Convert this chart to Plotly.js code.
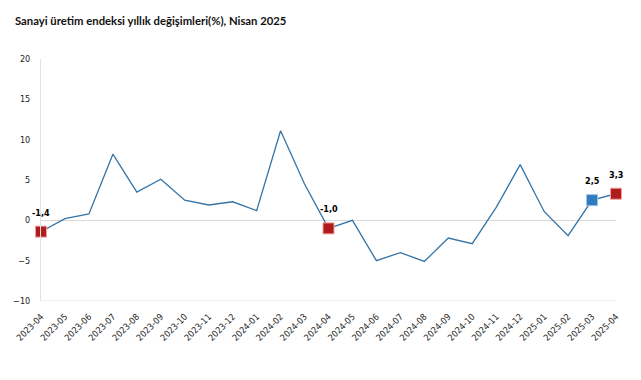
<!DOCTYPE html>
<html>
<head>
<meta charset="utf-8">
<script src="https://cdn.plot.ly/plotly-3.0.1.min.js"></script>
<style>html,body{margin:0;padding:0;background:#fff;}#chart{width:641px;height:380px;}</style>
</head>
<body>
<div id="chart"></div>
<script>
const months = ["2023-04","2023-05","2023-06","2023-07","2023-08","2023-09","2023-10","2023-11","2023-12",
  "2024-01","2024-02","2024-03","2024-04","2024-05","2024-06","2024-07","2024-08","2024-09","2024-10",
  "2024-11","2024-12","2025-01","2025-02","2025-03","2025-04"];
const values = [-1.4,0.2,0.8,8.2,3.5,5.1,2.5,1.9,2.3,1.2,11.1,4.5,-1.0,0.0,-5.0,-4.0,-5.1,-2.2,-2.9,1.6,6.9,1.1,-1.9,2.5,3.3];
const redMonths = ["2023-04","2024-04","2025-04"];
const blueMonths = ["2025-03"];
const titleText = "Sanayi üretim endeksi yıllık değişimleri(%), Nisan 2025";

const pick = (list) => list.map(m => values[months.indexOf(m)]);
const fmt = v => v.toFixed(1).replace('.', ',');
const labelMonths = redMonths.concat(blueMonths);

const traces = [
  {x: months, y: values, type: 'scatter', mode: 'lines', cliponaxis: false,
   line: {color: '#3574a6', width: 1.3}, hoverinfo: 'skip', showlegend: false},
  {x: redMonths, y: pick(redMonths), type: 'scatter', mode: 'markers', cliponaxis: false,
   marker: {symbol: 'square', size: 11, color: '#b01c1c', line: {color: '#f0a0a0', width: 1}}, showlegend: false},
  {x: blueMonths, y: pick(blueMonths), type: 'scatter', mode: 'markers', cliponaxis: false,
   marker: {symbol: 'square', size: 11, color: '#2e7bbf', line: {color: '#9cc3e6', width: 1}}, showlegend: false}
];

const annotations = labelMonths.map(m => ({
  x: m, y: values[months.indexOf(m)], xref: 'x', yref: 'y',
  text: '<b>' + fmt(values[months.indexOf(m)]) + '</b>', showarrow: false,
  yshift: 19, font: {family: 'DejaVu Sans Condensed, sans-serif', size: 9, color: '#000'}
}));

const tf = {family: 'DejaVu Sans Condensed, sans-serif', size: 9, color: '#222'};
const layout = {
  width: 641, height: 380,
  margin: {l: 41, r: 25, t: 59, b: 79},
  paper_bgcolor: '#fff', plot_bgcolor: '#fff',
  separators: ', ',
  title: {text: '<b>' + titleText + '</b>', x: 15/641, xanchor: 'left', y: 1 - 21/380, yanchor: 'middle',
          font: {family: 'Lato, sans-serif', size: 11.3, color: '#111'}},
  xaxis: {type: 'category', range: [0, 24], tickangle: -45, showgrid: false, zeroline: false,
          showline: false, ticks: 'outside', ticklen: 6, tickcolor: 'rgba(0,0,0,0)', tickfont: tf},
  yaxis: {range: [-10, 20], dtick: 5, showgrid: false, zeroline: true, zerolinecolor: '#d9d9d9', zerolinewidth: 1,
          showline: true, linecolor: '#e3e3e3', linewidth: 1, ticks: 'outside', ticklen: 8, tickcolor: 'rgba(0,0,0,0)',
          tickfont: tf},
  shapes: [{type: 'line', xref: 'paper', yref: 'y', x0: 0, x1: 1, y0: -10, y1: -10, line: {color: '#e3e3e3', width: 1}}],
  annotations: annotations
};

Plotly.newPlot('chart', traces, layout, {displayModeBar: false, staticPlot: true});
</script>
</body>
</html>
